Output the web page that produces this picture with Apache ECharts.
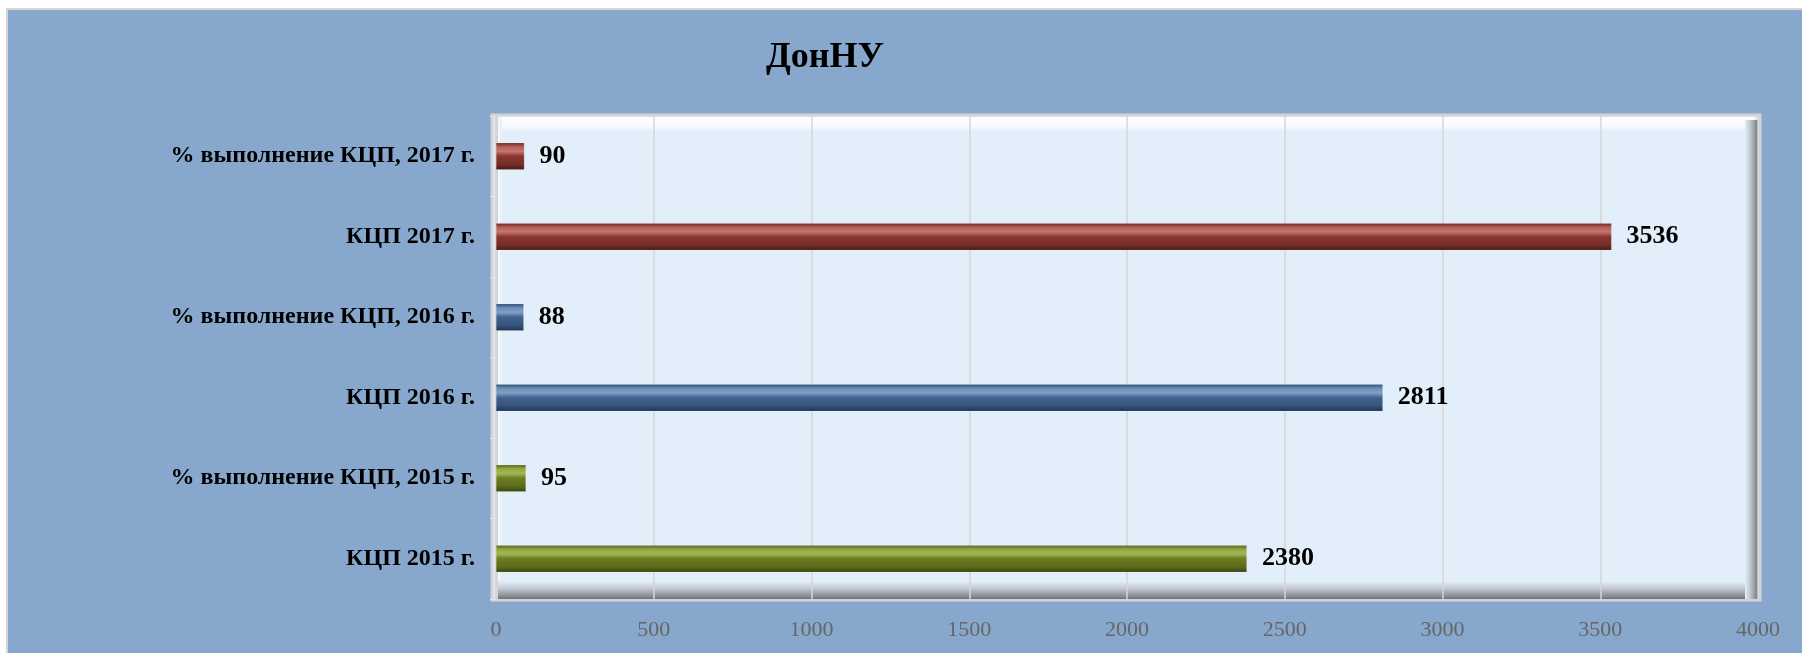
<!DOCTYPE html>
<html>
<head>
<meta charset="utf-8">
<style>
html,body{margin:0;padding:0;background:#ffffff;}
#chart{width:1802px;height:653px;}
</style>
<script src="https://cdn.jsdelivr.net/npm/echarts@6/dist/echarts.min.js"></script>
</head>
<body>
<div id="chart"></div>
<script>
// Data (bottom to top)
var categories = ['КЦП 2015 г.', '% выполнение КЦП, 2015 г.', 'КЦП 2016 г.', '% выполнение КЦП, 2016 г.', 'КЦП 2017 г.', '% выполнение КЦП, 2017 г.'];
var values = [2380, 95, 2811, 88, 3536, 90];
var colorKeys = ['green', 'green', 'blue', 'blue', 'red', 'red'];
var xTicks = [0, 500, 1000, 1500, 2000, 2500, 3000, 3500, 4000];
var titleText = 'ДонНУ';

var palettes = {
  red:   ['#6a2420', '#b0605a', '#c7756e', '#8a3631', '#772d28', '#481815'],
  blue:  ['#2c4a70', '#6c8db5', '#7f9fc6', '#42628c', '#35537d', '#1e3452'],
  green: ['#55621a', '#93a544', '#a5b654', '#6c7d21', '#5c6b1c', '#3a4311']
};
function barGrad(k) {
  var p = palettes[k];
  return new echarts.graphic.LinearGradient(0, 0, 0, 1, [
    {offset: 0, color: p[0]}, {offset: 0.15, color: p[1]}, {offset: 0.32, color: p[2]},
    {offset: 0.5, color: p[3]}, {offset: 0.8, color: p[4]}, {offset: 1, color: p[5]}
  ]);
}

var G = {left: 496, right: 44, top: 116, bottom: 54};
var W = 1802, H = 653;
var gx = G.left, gy = G.top, gw = W - G.left - G.right, gh = H - G.top - G.bottom;
var FONT = '"Liberation Serif", "Times New Roman", serif';

var chart = echarts.init(document.getElementById('chart'));
chart.setOption({
  backgroundColor: '#ffffff',
  animation: false,
  title: {
    text: titleText, left: 820, top: 35, textAlign: 'center',
    textStyle: {fontFamily: FONT, fontWeight: 'bold', fontSize: 36, color: '#000'}
  },
  graphic: [
    {type: 'rect', z: -10, shape: {x: 7, y: 9, width: W, height: H}, style: {fill: '#87A8CC', stroke: '#d6d6d6', lineWidth: 2}},
    {type: 'rect', z: -5, shape: {x: gx - 4, y: gy - 1, width: gw + 6, height: gh + 2}, style: {fill: '#E2EEFA', stroke: '#d4d4d4', lineWidth: 3}},
    {type: 'rect', z: -4, shape: {x: gx, y: gy + 1, width: gw - 4, height: 15},
      style: {fill: new echarts.graphic.LinearGradient(0, 0, 0, 1, [{offset: 0, color: '#ffffff'}, {offset: 0.6, color: '#f6fafe'}, {offset: 1, color: '#E2EEFA'}])}},
    {type: 'rect', z: -4, shape: {x: gx, y: gy + 1, width: 6, height: gh - 2},
      style: {fill: new echarts.graphic.LinearGradient(0, 0, 1, 0, [{offset: 0, color: '#ffffff'}, {offset: 1, color: '#E2EEFA'}])}},
    {type: 'rect', z: -3, shape: {x: gx, y: gy + gh - 18, width: gw, height: 18},
      style: {fill: new echarts.graphic.LinearGradient(0, 0, 0, 1, [{offset: 0, color: '#E2EEFA'}, {offset: 0.4, color: '#c4cbd4'}, {offset: 0.8, color: '#8d939b'}, {offset: 1, color: '#6e747c'}])}},
    {type: 'rect', z: -3, shape: {x: gx + gw - 13, y: gy + 4, width: 13, height: gh - 4},
      style: {fill: new echarts.graphic.LinearGradient(0, 0, 1, 0, [{offset: 0, color: '#E2EEFA'}, {offset: 0.4, color: '#c0c7d0'}, {offset: 0.8, color: '#8d939b'}, {offset: 1, color: '#6e747c'}])}}
  ],
  grid: {left: G.left, right: G.right, top: G.top, bottom: G.bottom, show: false},
  xAxis: {
    type: 'value', min: xTicks[0], max: xTicks[xTicks.length - 1], interval: 500, z: 1,
    axisLine: {show: false}, axisTick: {show: false},
    splitLine: {show: true, lineStyle: {color: '#d6d6d6', width: 1.5}},
    axisLabel: {margin: 20, fontFamily: FONT, fontSize: 22, color: '#666666',
      formatter: function (v) { return String(v); }}
  },
  yAxis: {
    type: 'category', data: categories, z: 1,
    axisLine: {show: true, lineStyle: {color: '#d4d4d4', width: 3}},
    axisTick: {show: true, length: 6, lineStyle: {color: '#e4e4e4', width: 1}},
    axisLabel: {margin: 21, fontFamily: FONT, fontWeight: 'bold', fontSize: 24, color: '#000'}
  },
  series: [{
    type: 'bar', barWidth: 27, z: 2,
    data: values.map(function (v, i) {
      return {value: v, itemStyle: {color: barGrad(colorKeys[i]), borderColor: 'rgba(255,255,255,0.25)', borderWidth: 0.5}};
    }),
    label: {show: true, position: 'right', distance: 15, fontFamily: FONT, fontWeight: 'bold', fontSize: 26, color: '#000'}
  }]
});
</script>
</body>
</html>
